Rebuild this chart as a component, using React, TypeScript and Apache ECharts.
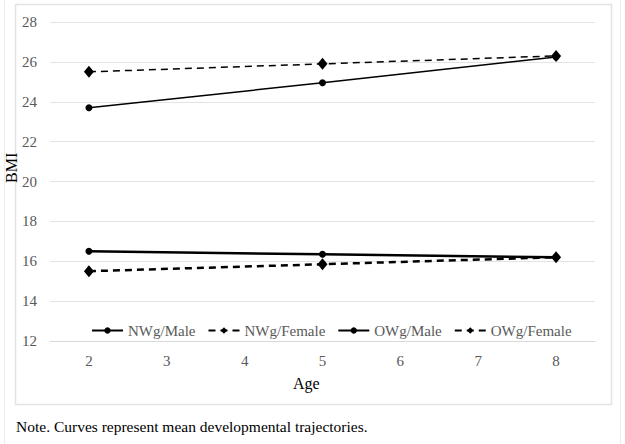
import React, { useEffect, useRef } from "react";
import * as echarts from "echarts";

const ages = ["2", "3", "4", "5", "6", "7", "8"];
const nwgMale = [16.5, null, null, 16.35, null, null, 16.2];
const nwgFemale = [15.5, null, null, 15.85, null, null, 16.2];
const owgMale = [23.7, null, null, 24.95, null, null, 26.25];
const owgFemale = [25.5, null, null, 25.9, null, null, 26.3];
const yTicks = { min: 12, max: 28, interval: 2 };

const FONT = "Liberation Serif";
const GREY = "#595959";

export default function App() {
  const ref = useRef<HTMLDivElement>(null);
  useEffect(() => {
    document.body.style.margin = "0";
    const chart = echarts.init(ref.current!, null, { renderer: "svg" });
    const mk = (name: string, data: any[], width: number, dashed: boolean, symbol: string, size: any) => ({
      name,
      type: "line",
      data,
      connectNulls: true,
      symbol,
      symbolSize: size,
      lineStyle: { color: "#000", width, type: dashed ? [7, 5] : "solid" },
      itemStyle: { color: "#000" },
      emphasis: { disabled: true },
    });
    chart.setOption({
      animation: false,
      backgroundColor: "#fff",
      textStyle: { fontFamily: FONT },
      grid: { left: 50, right: 30, top: 22, bottom: 103, containLabel: false },
      legend: {
        left: 86,
        top: 318,
        itemWidth: 31,
        itemHeight: 8,
        itemGap: 12,
        textStyle: { fontFamily: FONT, fontSize: 15, color: GREY },
        data: ["NWg/Male", "NWg/Female", "OWg/Male", "OWg/Female"],
      },
      xAxis: {
        type: "category",
        data: ages,
        boundaryGap: true,
        axisLine: { lineStyle: { color: "#d9d9d9" } },
        axisTick: { show: false },
        axisLabel: { fontFamily: FONT, fontSize: 15, color: GREY, margin: 12 },
      },
      yAxis: {
        type: "value",
        min: yTicks.min,
        max: yTicks.max,
        interval: yTicks.interval,
        axisLine: { show: false },
        axisTick: { show: false },
        axisLabel: { fontFamily: FONT, fontSize: 15, color: GREY, margin: 13 },
        splitLine: { lineStyle: { color: "#e3e3e3", width: 1 } },
      },
      series: [
        mk("NWg/Male", nwgMale, 2.5, false, "circle", 7),
        mk("NWg/Female", nwgFemale, 2.5, true, "diamond", [10, 12]),
        mk("OWg/Male", owgMale, 1.5, false, "circle", 7),
        mk("OWg/Female", owgFemale, 1.5, true, "diamond", [10, 12]),
      ],
      graphic: [
        { type: "line", shape: { x1: 4.5, y1: 0, x2: 4.5, y2: 444 }, style: { stroke: "#ececec", lineWidth: 1 }, silent: true },
        { type: "line", shape: { x1: 620.5, y1: 0, x2: 620.5, y2: 444 }, style: { stroke: "#ececec", lineWidth: 1 }, silent: true },
        { type: "rect", shape: { x: 15.5, y: 4.5, width: 596, height: 400 }, style: { fill: "none", stroke: "#e3e3e3", lineWidth: 1.5 }, silent: true, z: -1 },
        { type: "text", left: 293, top: 375, style: { text: "Age", fontFamily: FONT, fontSize: 16, fontWeight: "normal", fill: "#000" } },
        { type: "text", x: 3, y: 183, rotation: Math.PI / 2, style: { text: "BMI", fontFamily: FONT, fontSize: 16, fontWeight: "normal", fill: "#000", textAlign: "left", textVerticalAlign: "top" } },
        { type: "text", left: 16, top: 418, style: { text: "Note. Curves represent mean developmental trajectories.", fontFamily: FONT, fontSize: 15.5, fontWeight: "normal", fill: "#000" } },
      ],
    });
    return () => chart.dispose();
  }, []);
  return <div ref={ref} style={{ width: 625, height: 444 }} />;
}
